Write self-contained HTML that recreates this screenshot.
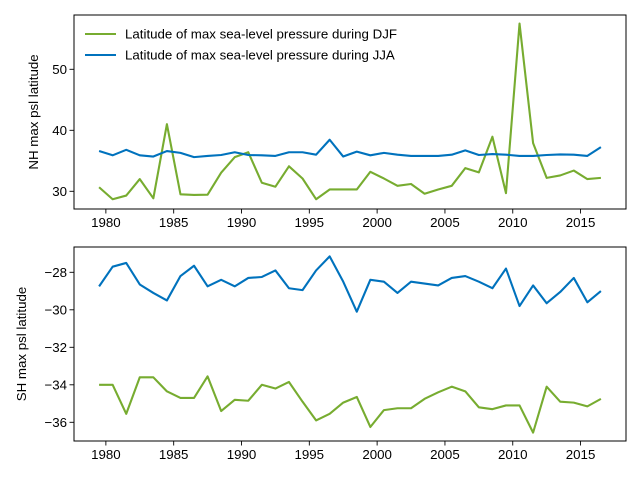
<!DOCTYPE html>
<html><head><meta charset="utf-8"><style>
body{margin:0;background:#fff}
svg text{font-family:"Liberation Sans","DejaVu Sans",sans-serif;font-size:13.3px;fill:#000}
</style></head><body>
<svg id="chart" width="640" height="480" xmlns="http://www.w3.org/2000/svg"></svg>
<script>
const years = Array.from({length:38},(_,i)=>1979.5+i);
const nhDJF = [30.66,28.7,29.3,32.0,28.85,41.0,29.5,29.4,29.45,33.05,35.6,36.4,31.4,30.75,34.1,32.1,28.7,30.3,30.3,30.3,33.2,32.1,30.9,31.2,29.6,30.3,30.9,33.8,33.1,38.95,29.7,57.5,37.9,32.2,32.6,33.4,32.0,32.2];
const nhJJA = [36.6,35.9,36.8,35.9,35.7,36.6,36.3,35.6,35.8,35.95,36.4,35.95,35.9,35.8,36.4,36.4,36.0,38.45,35.7,36.5,35.9,36.3,36.0,35.8,35.8,35.8,36.0,36.7,35.95,36.1,36.0,35.8,35.8,35.95,36.05,36.0,35.8,37.25];
const shDJF = [-34.0,-34.0,-35.55,-33.6,-33.6,-34.35,-34.7,-34.7,-33.55,-35.4,-34.8,-34.85,-34.0,-34.2,-33.85,-34.9,-35.9,-35.55,-34.95,-34.65,-36.25,-35.35,-35.25,-35.25,-34.75,-34.4,-34.1,-34.35,-35.2,-35.3,-35.1,-35.1,-36.55,-34.1,-34.9,-34.95,-35.15,-34.75];
const shJJA = [-28.75,-27.7,-27.5,-28.65,-29.1,-29.5,-28.2,-27.65,-28.75,-28.4,-28.75,-28.3,-28.25,-27.9,-28.85,-28.95,-27.9,-27.15,-28.5,-30.1,-28.4,-28.5,-29.1,-28.5,-28.6,-28.7,-28.3,-28.2,-28.5,-28.85,-27.8,-29.8,-28.7,-29.65,-29.05,-28.3,-29.6,-29.0];
const xTicks = [1980,1985,1990,1995,2000,2005,2010,2015];
const nhTicks = [30,40,50];
const shTicks = [-36,-34,-32,-30,-28];

const NS="http://www.w3.org/2000/svg";
const svg=document.getElementById('chart');
function mk(tag,attrs,parent){const e=document.createElementNS(NS,tag);for(const k in attrs)e.setAttribute(k,attrs[k]);(parent||svg).appendChild(e);return e;}
const L=74,R=626;
const xS=v=>L+(v-1977.65)/(2018.35-1977.65)*(R-L);
const GREEN="#77AC30",BLUE="#0072BD";

function panel(name,top,bot,yS,ticks,series,ylabel,ylx){
  const g=mk('g',{});
  
  
  series.forEach(s=>{
    const p=mk('polyline',{points:years.map((y,i)=>xS(y).toFixed(2)+','+yS(s.vals[i]).toFixed(2)).join(' '),fill:'none',stroke:s.color,'stroke-width':2.1,'stroke-linejoin':'round'},g);
    
    
  });
  const f=mk('rect',{x:L,y:top,width:R-L,height:bot-top,fill:'none',stroke:'#000','stroke-width':1},g);
  
  
  xTicks.forEach(t=>{
    const x=xS(t);
    mk('line',{x1:x,x2:x,y1:bot,y2:bot+4.5,stroke:'#000','stroke-width':0.9},g);
    const tx=mk('text',{x:x,y:bot+18,'text-anchor':'middle'},g);tx.textContent=t;
    
    
  });
  ticks.forEach(t=>{
    const y=yS(t);
    mk('line',{x1:L-4.5,x2:L,y1:y,y2:y,stroke:'#000','stroke-width':0.9},g);
    const tx=mk('text',{x:L-7,y:y+4.8,'text-anchor':'end'},g);tx.textContent=String(t).replace('-','\u2212');
    
    
  });
  const yl=mk('text',{x:ylx,y:(top+bot)/2,'text-anchor':'middle',transform:`rotate(-90 ${ylx} ${(top+bot)/2})`},g);
  yl.textContent=ylabel;
  
  
}
panel('nh',15,209,v=>191.3-(v-30)*6.1,nhTicks,[{vals:nhDJF,color:GREEN,name:'nh-djf-line'},{vals:nhJJA,color:BLUE,name:'nh-jja-line'}],'NH max psl latitude',38);
panel('sh',247,441,v=>272.3-(v+28)*18.75,shTicks,[{vals:shDJF,color:GREEN,name:'sh-djf-line'},{vals:shJJA,color:BLUE,name:'sh-jja-line'}],'SH max psl latitude',26);

const lg=mk('g',{});


[['Latitude of max sea-level pressure during DJF',GREEN,34],['Latitude of max sea-level pressure during JJA',BLUE,55]].forEach(([t,c,y])=>{
  const e=mk('g',{},lg);
  
  
  mk('line',{x1:85,x2:116,y1:y,y2:y,stroke:c,'stroke-width':2.1},e);
  const tx=mk('text',{x:125,y:y+4.7},e);tx.textContent=t;
});
</script>
</body></html>
